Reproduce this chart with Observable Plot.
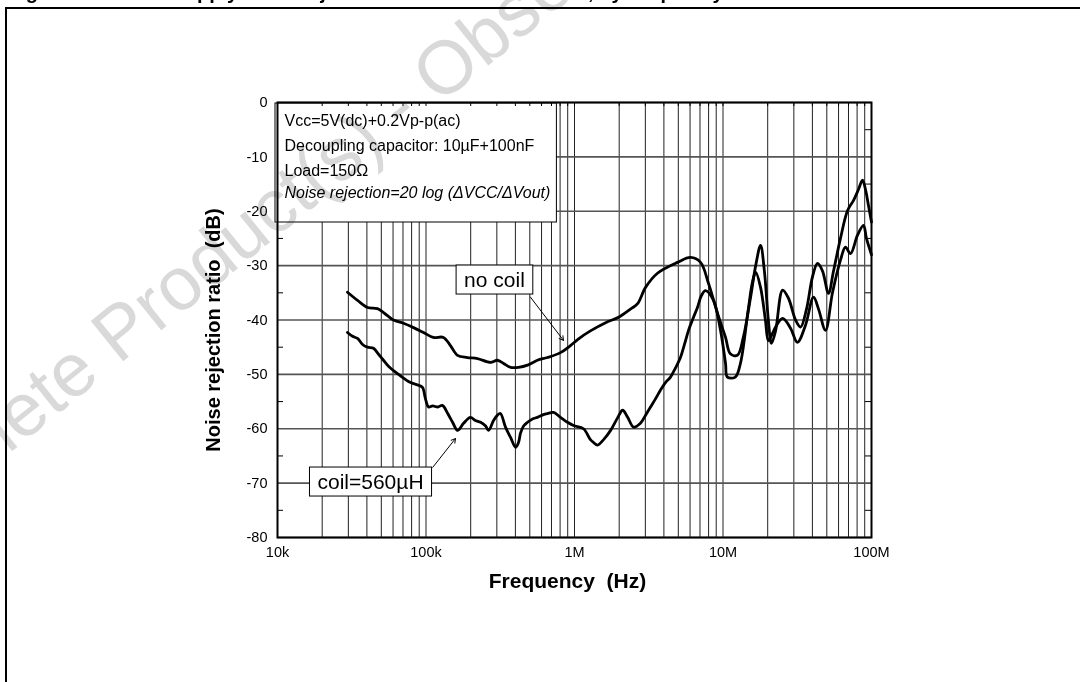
<!DOCTYPE html>
<html>
<head>
<meta charset="utf-8">
<script src="https://cdn.jsdelivr.net/npm/d3@7"></script>
<script src="https://cdn.jsdelivr.net/npm/@observablehq/plot@0.6"></script>
<style>
html,body{margin:0;padding:0;background:#fff;}
body{width:1080px;height:682px;overflow:hidden;position:relative;font-family:"Liberation Sans",Arial,Helvetica,sans-serif;}
#chart{position:absolute;left:0;top:0;}
#title{position:absolute;left:8px;top:-18px;font-weight:bold;font-size:20px;line-height:20px;white-space:nowrap;}
#frame{position:absolute;left:5px;top:7px;width:1200px;height:800px;border-left:2px solid #000;border-top:2px solid #000;}
#wm{position:absolute;left:0;top:0;pointer-events:none;mix-blend-mode:multiply;}
</style>
</head>
<body>
<div id="chart"></div>
<div id="title"></div>
<div id="frame"></div>
<svg id="wm" width="1080" height="682"></svg>
<script>
// ---- data ----
const noCoilFreq = [29.6e3,34.6e3,40.4e3,47.1e3,55.0e3,60.4e3,70.6e3,82.4e3,96.2e3,112e3,131e3,146e3,163e3,190e3,222e3,272e3,303e3,333e3,371e3,420e3,483e3,563e3,658e3,805e3,940e3,1.06e6,1.28e6,1.62e6,1.98e6,2.38e6,2.66e6,3.01e6,3.62e6,4.94e6,6.04e6,7.06e6,7.99e6,9.19e6,10.4e6,11.2e6,12.5e6,13.7e6,15.3e6,16.6e6,17.9e6,19.0e6,20.2e6,21.2e6,22.6e6,25.2e6,27.6e6,30.8e6,33.3e6,36.5e6,40.1e6,43.3e6,46.8e6,51.3e6,55.5e6,61.8e6,68.9e6,75.7e6,81.7e6,87.0e6,91.1e6,95.5e6,100e6];
const noCoilDb = [-34.9,-36.4,-37.7,-37.9,-39.2,-40.0,-40.6,-41.4,-42.3,-43.2,-43.2,-44.7,-46.5,-46.9,-47.1,-47.8,-47.4,-48.0,-48.7,-48.7,-48.3,-47.4,-46.9,-46.0,-44.7,-43.5,-42.0,-40.5,-39.5,-38.0,-37.0,-34.0,-31.4,-29.4,-28.5,-29.4,-33.3,-38.8,-43.2,-46.2,-46.5,-43.2,-36.0,-30.0,-26.3,-31.0,-40.0,-44.3,-42.0,-34.5,-36.0,-40.0,-41.3,-38.0,-32.0,-29.6,-31.0,-35.1,-31.0,-25.0,-19.9,-18.0,-16.0,-14.3,-16.0,-19.0,-22.0];
const coilFreq = [29.6e3,32.0e3,34.6e3,37.4e3,40.4e3,44.3e3,47.9e3,51.7e3,55.9e3,60.4e3,65.3e3,70.6e3,76.2e3,82.4e3,89.0e3,94.7e3,99.2e3,104e3,111e3,120e3,129e3,140e3,151e3,163e3,179e3,199e3,215e3,233e3,252e3,264e3,285e3,303e3,317e3,343e3,371e3,401e3,420e3,433e3,454e3,483e3,521e3,563e3,618e3,658e3,722e3,805e3,897e3,985e3,1.15e6,1.28e6,1.34e6,1.43e6,1.57e6,1.75e6,1.95e6,2.11e6,2.28e6,2.50e6,2.78e6,3.01e6,3.25e6,3.51e6,3.79e6,4.10e6,4.43e6,4.79e6,5.17e6,5.50e6,5.86e6,6.33e6,6.73e6,7.16e6,7.62e6,8.63e6,9.62e6,10.4e6,10.7e6,12.1e6,13.1e6,14.8e6,15.8e6,16.6e6,17.9e6,19.3e6,20.2e6,21.5e6,22.6e6,25.2e6,28.5e6,31.7e6,35.9e6,40.7e6,44.0e6,49.0e6,54.6e6,61.8e6,66.8e6,72.2e6,80.5e6,88.3e6,92.5e6,100e6];
const coilDb = [-42.3,-43.0,-43.4,-44.5,-45.0,-45.2,-46.3,-47.4,-48.5,-49.3,-50.0,-50.7,-51.3,-51.7,-52.0,-52.4,-54.5,-56.0,-55.8,-56.0,-55.7,-57.2,-58.8,-60.3,-59.0,-57.9,-58.5,-58.8,-59.5,-60.3,-58.5,-57.5,-57.2,-59.7,-61.6,-63.4,-62.5,-60.8,-59.5,-58.8,-58.2,-57.9,-57.4,-57.2,-57.0,-57.9,-58.8,-59.4,-60.0,-62.0,-62.5,-63.0,-62.0,-60.3,-58.0,-56.6,-57.9,-59.7,-59.0,-57.5,-56.0,-54.5,-52.9,-51.5,-50.5,-48.8,-46.9,-44.5,-41.9,-39.5,-37.7,-35.5,-34.6,-36.4,-41.9,-48.0,-50.5,-50.5,-48.0,-38.0,-33.0,-31.2,-34.0,-40.0,-43.8,-42.5,-41.3,-39.7,-41.5,-44.1,-41.0,-35.8,-38.0,-41.9,-35.0,-29.0,-26.6,-27.8,-24.4,-22.6,-25.0,-28.0];

const xTickValues = [1e4,1e5,1e6,1e7,1e8];
const xTickLabels = ["10k","100k","1M","10M","100M"];
const yTickValues = [0,-10,-20,-30,-40,-50,-60,-70,-80];
const yTickLabels = ["0","-10","-20","-30","-40","-50","-60","-70","-80"];
const yMinorTicks = [-5,-15,-25,-35,-45,-55,-65,-75];

const xTitle = "Frequency  (Hz)";
const yTitle = "Noise rejection ratio  (dB)";
const infoLines = ["Vcc=5V(dc)+0.2Vp-p(ac)","Decoupling capacitor: 10µF+100nF","Load=150Ω"];
const infoFormula = "Noise rejection=20 log (ΔVCC/ΔVout)";
const labelText = ["no coil","coil=560µH"];
const labelFreq = [289e3,42.3e3];
const labelDb = [-32.7,-69.85];
const arrowFromFreq = [505e3,111e3];
const arrowFromDb = [-35.8,-67.1];
const arrowToFreq = [843e3,158e3];
const arrowToDb = [-43.75,-61.8];
const titleText = "Figure 30. Power supply noise rejection with and without coil, by frequency";
const watermarkText = "Obsolete Product(s) - Obsolete Product(s)";

// ---- tables ----
const noCoil = noCoilFreq.map((f,i)=>({f, db:noCoilDb[i]}));
const coil = coilFreq.map((f,i)=>({f, db:coilDb[i]}));
const labels = labelText.map((t,i)=>({t, f:labelFreq[i], db:labelDb[i]}));
const arrows = arrowFromFreq.map((f,i)=>({f1:f, db1:arrowFromDb[i], f2:arrowToFreq[i], db2:arrowToDb[i]}));
const xGrid = d3.scaleLog().domain([1e4,1e8]).ticks();

const font = '"Liberation Sans", Arial, Helvetica, sans-serif';

const chart = Plot.plot({
  width: 1080, height: 682,
  marginLeft: 277, marginRight: 209, marginTop: 102, marginBottom: 145,
  x: {type: "log", domain: [1e4, 1e8]},
  y: {domain: [-80, 0]},
  style: {fontFamily: font, fontSize: "14px", color: "#000", background: "transparent", overflow: "visible"},
  marks: [
    Plot.gridX(xGrid, {stroke: "#222", strokeOpacity: 1, strokeWidth: 1}),
    Plot.gridY(yTickValues, {stroke: "#555", strokeOpacity: 1, strokeWidth: 1.6}),
    Plot.ruleY(yMinorTicks, {insetRight: 588, stroke: "#000", strokeWidth: 1}),
    Plot.ruleY(yMinorTicks, {insetLeft: 588, stroke: "#000", strokeWidth: 1}),
    Plot.axisX(xTickValues, {tickSize: 0, tickPadding: 9, label: null, fontSize: 14.5,
      tickFormat: d => xTickLabels[xTickValues.indexOf(d)]}),
    Plot.axisY(yTickValues, {tickSize: 0, tickPadding: 10, label: null, fontSize: 14.5,
      tickFormat: d => yTickLabels[yTickValues.indexOf(d)]}),
    Plot.line(noCoil, {x: "f", y: "db", stroke: "#000", strokeWidth: 2.8, curve: "catmull-rom"}),
    Plot.line(coil, {x: "f", y: "db", stroke: "#000", strokeWidth: 2.8, curve: "catmull-rom"}),
    Plot.arrow(arrows, {x1: "f1", y1: "db1", x2: "f2", y2: "db2", stroke: "#000", strokeWidth: 1, headLength: 7}),
    Plot.text(labels, {x: "f", y: "db", text: "t", fontSize: 21, fill: "#000", ariaDescription: "curve-label"}),
    Plot.text([infoLines.join("\n")], {frameAnchor: "top-left", dx: 7, dy: 6, lineAnchor: "top", textAnchor: "start",
      lineHeight: 1.56, fontSize: 16, fill: "#000", ariaDescription: "info"}),
    Plot.text([infoFormula], {frameAnchor: "top-left", dx: 7, dy: 84, lineAnchor: "top", textAnchor: "start",
      fontSize: 16, fontStyle: "italic", fill: "#000", ariaDescription: "info-formula"}),
    Plot.ruleX(xGrid, {insetBottom: 431, stroke: "#000", strokeWidth: 1}),
    Plot.frame({stroke: "#000", strokeWidth: 2}),
    Plot.text([xTitle], {frameAnchor: "bottom", dx: -7, dy: 50, fontSize: 21, fontWeight: "bold", fill: "#000"}),
    Plot.text([yTitle], {frameAnchor: "left", textAnchor: "middle", dx: -64, dy: 10, rotate: -90, fontSize: 20, fontWeight: "bold", fill: "#000"})
  ]
});
document.getElementById("chart").append(chart);

// white boxes behind annotation texts
const NS = "http://www.w3.org/2000/svg";
const svgRect = chart.getBoundingClientRect();
function addRect(beforeNode, x, y, w, h) {
  const r = document.createElementNS(NS, "rect");
  r.setAttribute("x", x); r.setAttribute("y", y);
  r.setAttribute("width", w); r.setAttribute("height", h);
  r.setAttribute("fill", "#fff"); r.setAttribute("stroke", "#000"); r.setAttribute("stroke-width", 1);
  beforeNode.parentNode.insertBefore(r, beforeNode);
}
const textGroups = chart.querySelectorAll('g[aria-label="text"]');
const pick = (desc, idx) => chart.querySelector(`g[aria-description="${desc}"]`) || textGroups[idx];
const lg = pick("curve-label", 0);
const ig = pick("info", 1);
const fg = pick("info-formula", 2);
if (lg) lg.querySelectorAll("text").forEach(t => {
  const b = t.getBoundingClientRect();
  addRect(lg, b.left - svgRect.left - 8, b.top - svgRect.top - 3, b.width + 16, b.height + 6);
});
if (ig && fg) {
  let right = 0;
  [ig, fg].forEach(g => {
    const b = g.getBoundingClientRect();
    right = Math.max(right, b.right - svgRect.left);
  });
  addRect(ig, 275, 103, right + 6 - 275, 222 - 103);
}

// title (cut off at the top of the page)
document.getElementById("title").textContent = titleText;

// watermark
const wm = document.getElementById("wm");
const wt = document.createElementNS(NS, "text");
wt.setAttribute("x", -131); wt.setAttribute("y", 567);
wt.setAttribute("transform", "rotate(-39 -131 567)");
wt.setAttribute("font-size", 75);
wt.setAttribute("font-family", font);
wt.setAttribute("fill", "#d9d9d9");
wt.textContent = watermarkText;
wm.appendChild(wt);
</script>
</body>
</html>
